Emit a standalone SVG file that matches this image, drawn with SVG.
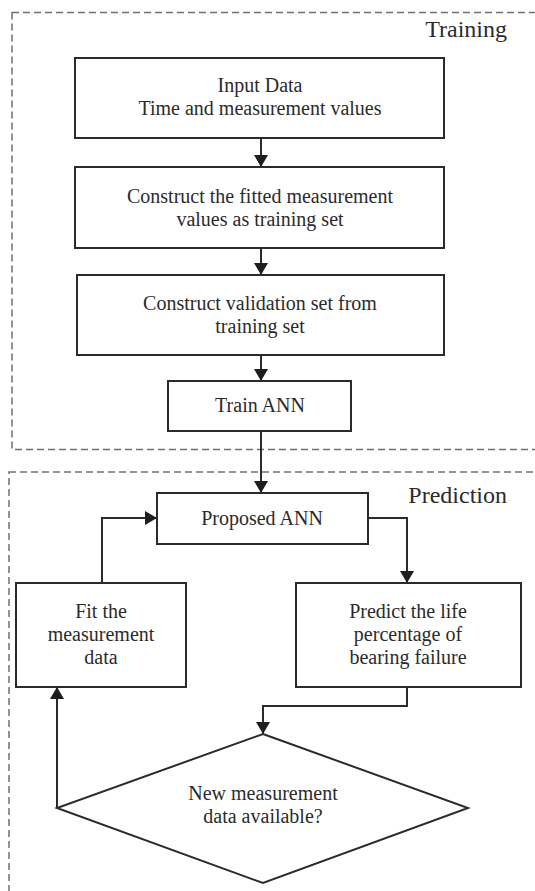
<svg xmlns="http://www.w3.org/2000/svg" width="535" height="891" viewBox="0 0 535 891">
  <style>
    .frame { fill: none; stroke: #707070; stroke-width: 1.5; stroke-dasharray: 7 4; }
    .box { fill: #ffffff; stroke: #2b2b2b; stroke-width: 2; }
    .lbl { font-family: "Liberation Serif", "Times New Roman", serif; font-size: 20px; fill: #2b2b2b; text-anchor: middle; }
    .title { font-family: "Liberation Serif", "Times New Roman", serif; font-size: 24px; fill: #2b2b2b; text-anchor: end; }
    .wire { fill: none; stroke: #2b2b2b; stroke-width: 2; }
  </style>
  <defs>
    <marker id="arrow" viewBox="0 0 12 14" refX="12" refY="7" markerWidth="12" markerHeight="14" markerUnits="userSpaceOnUse" orient="auto">
      <path d="M0,0 L12,7 L0,14 Z" fill="#1e1e1e"/>
    </marker>
  </defs>
  <rect width="535" height="891" fill="#ffffff"/>

  <!-- phase frames -->
  <g id="training-frame">
    <rect class="frame" x="12" y="12.5" width="540" height="437"/>
    <text class="title" x="507" y="37">Training</text>
  </g>
  <g id="prediction-frame">
    <rect class="frame" x="9" y="472" width="540" height="440"/>
    <text class="title" x="507" y="503">Prediction</text>
  </g>

  <!-- nodes -->
  <g id="input-data">
    <rect class="box" x="75" y="58" width="369" height="80"/>
    <text class="lbl" x="260" y="92">Input Data</text>
    <text class="lbl" x="260" y="115">Time and measurement values</text>
  </g>
  <g id="fitted-set">
    <rect class="box" x="75" y="167" width="369" height="81"/>
    <text class="lbl" x="260" y="203">Construct the fitted measurement</text>
    <text class="lbl" x="260" y="226">values as training set</text>
  </g>
  <g id="validation-set">
    <rect class="box" x="77" y="275" width="367" height="80"/>
    <text class="lbl" x="260" y="310">Construct validation set from</text>
    <text class="lbl" x="260" y="333">training set</text>
  </g>
  <g id="train-ann">
    <rect class="box" x="168" y="381" width="183" height="50"/>
    <text class="lbl" x="260" y="412">Train ANN</text>
  </g>
  <g id="proposed-ann">
    <rect class="box" x="157" y="493" width="211" height="51"/>
    <text class="lbl" x="262" y="525">Proposed ANN</text>
  </g>
  <g id="fit-data">
    <rect class="box" x="16" y="583" width="170" height="104"/>
    <text class="lbl" x="101" y="618">Fit the</text>
    <text class="lbl" x="101" y="641">measurement</text>
    <text class="lbl" x="101" y="664">data</text>
  </g>
  <g id="predict-life">
    <rect class="box" x="296" y="583" width="225" height="104"/>
    <text class="lbl" x="408" y="618">Predict the life</text>
    <text class="lbl" x="408" y="641">percentage of</text>
    <text class="lbl" x="408" y="664">bearing failure</text>
  </g>
  <g id="new-data">
    <polygon class="box" points="263,734 468,808 263,883 57,808"/>
    <text class="lbl" x="263" y="800">New measurement</text>
    <text class="lbl" x="263" y="823">data available?</text>
  </g>

  <!-- connectors -->
  <g id="connectors">
    <path class="wire" d="M261,138 V167" marker-end="url(#arrow)"/>
    <path class="wire" d="M261,248 V275" marker-end="url(#arrow)"/>
    <path class="wire" d="M261,355 V381" marker-end="url(#arrow)"/>
    <path class="wire" d="M261,431 V493" marker-end="url(#arrow)"/>
    <path class="wire" d="M368,518 H407 V583" marker-end="url(#arrow)"/>
    <path class="wire" d="M407,687 V706 H263 V734" marker-end="url(#arrow)"/>
    <path class="wire" d="M57,808 V687" marker-end="url(#arrow)"/>
    <path class="wire" d="M102,583 V518 H157" marker-end="url(#arrow)"/>
  </g>
</svg>
